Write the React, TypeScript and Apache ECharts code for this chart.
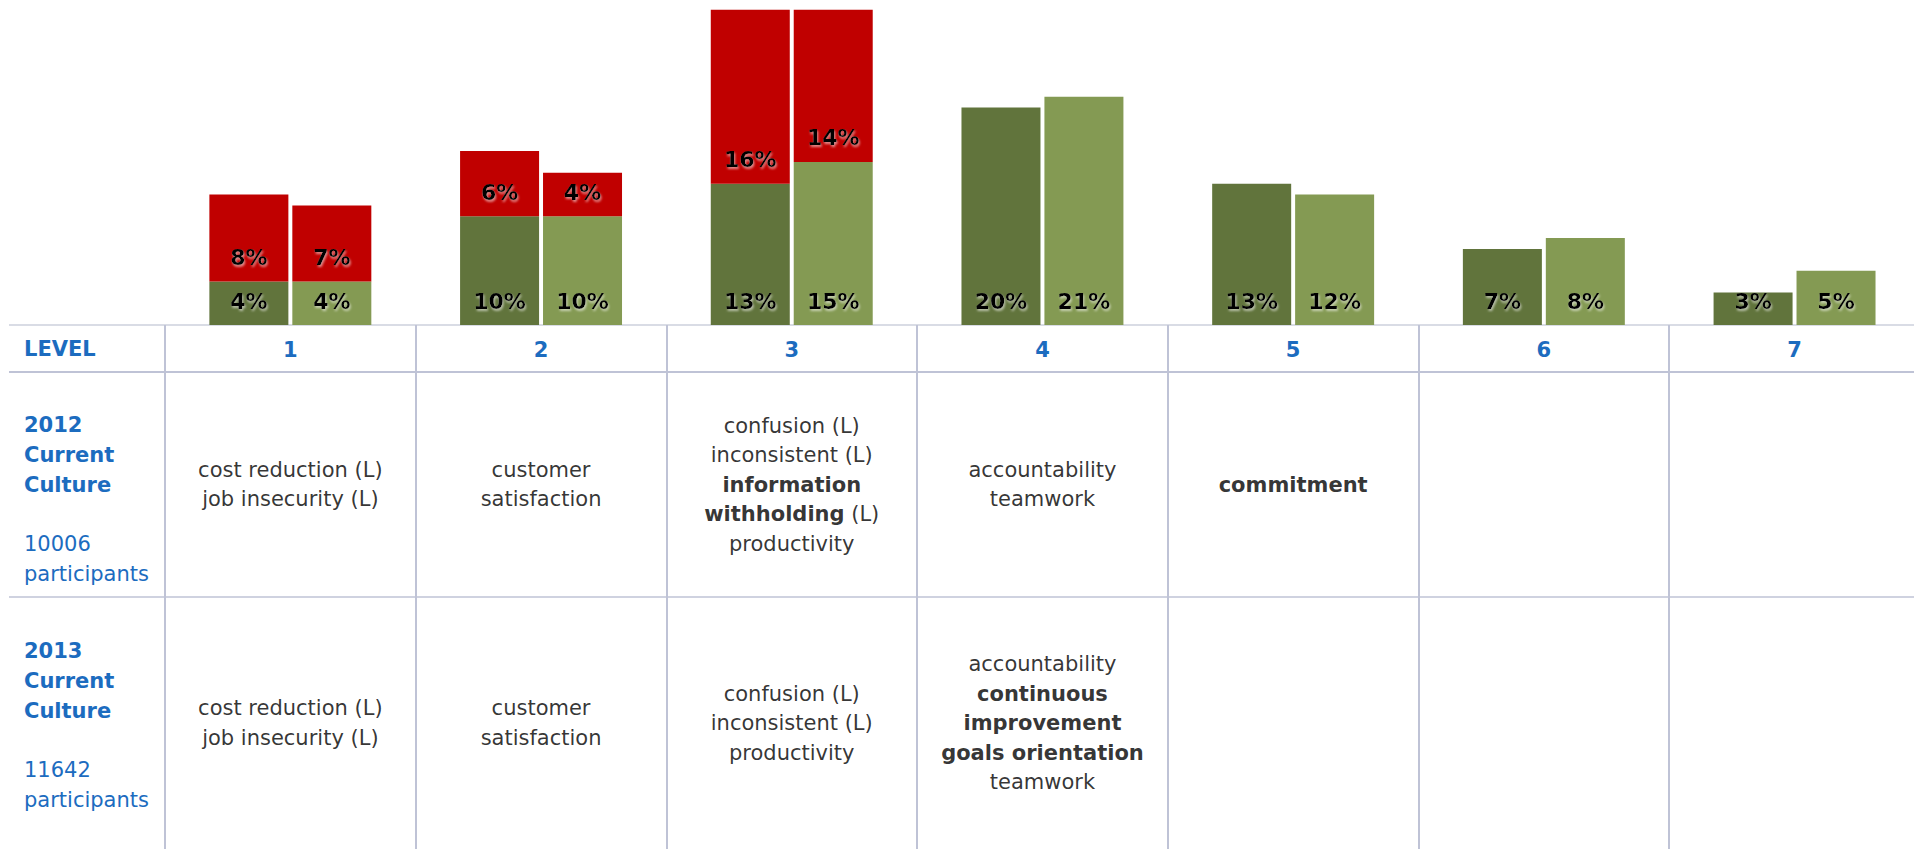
import React, { useEffect, useRef } from "react";
import * as echarts from "echarts";

// ---- data ----
const levels = ["1", "2", "3", "4", "5", "6", "7"];
const base2012 = [4, 10, 13, 20, 13, 7, 3];
const limiting2012 = [8, 6, 16, 0, 0, 0, 0];
const base2013 = [4, 10, 15, 21, 12, 8, 5];
const limiting2013 = [7, 4, 14, 0, 0, 0, 0];

const rowYears = ["2012", "2013"];
const rowParticipants = ["10006", "11642"];
const levelHeader = "LEVEL";

// cell texts ({b|..} = bold)
const values2012 = [
  ["cost reduction (L)", "job insecurity (L)"],
  ["customer", "satisfaction"],
  ["confusion (L)", "inconsistent (L)", "{b|information}", "{b|withholding} (L)", "productivity"],
  ["accountability", "teamwork"],
  ["{b|commitment}"],
  [],
  [],
];
const values2013 = [
  ["cost reduction (L)", "job insecurity (L)"],
  ["customer", "satisfaction"],
  ["confusion (L)", "inconsistent (L)", "productivity"],
  ["accountability", "{b|continuous}", "{b|improvement}", "{b|goals orientation}", "teamwork"],
  [],
  [],
  [],
];

// ---- layout / style ----
const W = 1914;
const H = 849;
const CHART_W = 1930;
const COL_LEFT = 165;
const COL_W = 250.7;
const BASE_Y = 325;
const LEVEL_ROW_BOTTOM = 372;
const ROW1_BOTTOM = 597;
const LINE_LEFT = 9;
const FONT = "'DejaVu Sans', Verdana, sans-serif";
const BLUE = "#1C6CBF";
const DARK_GREEN = "#61743C";
const LIGHT_GREEN = "#849A53";
const RED = "#C00000";
const GRID_LINE = "#BFC3D6";
const HEADER_LH = 29.8;

export default function App() {
  const ref = useRef<HTMLDivElement>(null);

  useEffect(() => {
    if (!ref.current) return;
    const chart = echarts.init(ref.current, undefined, { renderer: "svg" });

    const barLabel = {
      show: true,
      position: "insideBottom",
      distance: 13,
      color: "#000000",
      fontFamily: FONT,
      fontSize: 22,
      fontWeight: "bold",
      textShadowColor: "rgba(255,255,255,0.55)",
      textShadowBlur: 2,
      textShadowOffsetX: 1,
      textShadowOffsetY: 2,
      formatter: (p: any) => (p.value ? p.value + "%" : ""),
    };

    const barCommon = {
      type: "bar",
      xAxisIndex: 0,
      yAxisIndex: 0,
      barWidth: 79,
      barGap: "5%",
      label: barLabel,
    };

    const row1Center = (LEVEL_ROW_BOTTOM + ROW1_BOTTOM) / 2 - BASE_Y;
    const row2Center = (ROW1_BOTTOM + H) / 2 - BASE_Y;

    const cellData: any[] = [];
    [values2012, values2013].forEach((rows, r) => {
      rows.forEach((lines, i) => {
        if (!lines.length) return;
        cellData.push({
          value: [i, r === 0 ? row1Center : row2Center],
          label: { formatter: lines.join("\n") },
        });
      });
    });

    const headerBlock = (r: number) =>
      `{b|${rowYears[r]}}\n{b|Current}\n{b|Culture}\n{r| }\n{r|${rowParticipants[r]}}\n{r|participants}`;

    const headerRich = {
      b: { fontFamily: FONT, fontSize: 21, fontWeight: "bold", fill: BLUE, lineHeight: HEADER_LH },
      r: { fontFamily: FONT, fontSize: 21, fill: BLUE, lineHeight: HEADER_LH },
    };

    const hLine = (y: number, w: number, color: string) => ({
      type: "line",
      silent: true,
      shape: { x1: LINE_LEFT, y1: y, x2: CHART_W, y2: y },
      style: { stroke: color, lineWidth: w },
    });

    chart.setOption({
      animation: false,
      backgroundColor: "#ffffff",
      grid: [
        { left: COL_LEFT, top: 0, width: COL_W * levels.length, height: BASE_Y },
        { left: COL_LEFT, top: BASE_Y, width: COL_W * levels.length, height: H - BASE_Y },
      ],
      xAxis: [
        {
          type: "category",
          gridIndex: 0,
          data: levels,
          show: false,
        },
        {
          type: "category",
          gridIndex: 1,
          data: levels,
          position: "top",
          axisLine: { show: false },
          axisTick: { show: false },
          axisLabel: {
            show: true,
            inside: true,
            interval: 0,
            margin: 14,
            color: BLUE,
            fontFamily: FONT,
            fontSize: 21,
            fontWeight: "bold",
          },
          splitLine: { show: true, interval: 0, lineStyle: { color: GRID_LINE, width: 2 } },
        },
      ],
      yAxis: [
        { type: "value", gridIndex: 0, min: 0, max: 29.9, show: false },
        { type: "value", gridIndex: 1, min: 0, max: H - BASE_Y, inverse: true, show: false },
      ],
      series: [
        { ...barCommon, name: "2012", stack: "y2012", data: base2012, itemStyle: { color: DARK_GREEN } },
        { ...barCommon, name: "2012 limiting", stack: "y2012", data: limiting2012, itemStyle: { color: RED } },
        { ...barCommon, name: "2013", stack: "y2013", data: base2013, itemStyle: { color: LIGHT_GREEN } },
        { ...barCommon, name: "2013 limiting", stack: "y2013", data: limiting2013, itemStyle: { color: RED } },
        {
          type: "scatter",
          xAxisIndex: 1,
          yAxisIndex: 1,
          symbolSize: 1,
          itemStyle: { color: "rgba(0,0,0,0)" },
          silent: true,
          data: cellData,
          label: {
            show: true,
            position: "inside",
            align: "center",
            verticalAlign: "middle",
            color: "#000000",
            fontFamily: FONT,
            fontSize: 21,
            lineHeight: 29.5,
            rich: {
              b: { fontFamily: FONT, fontSize: 21, fontWeight: "bold", color: "#000000", lineHeight: 29.5 },
            },
          },
        },
      ],
      graphic: [
        hLine(BASE_Y, 1.5, "#CDD0DD"),
        hLine(LEVEL_ROW_BOTTOM, 2, GRID_LINE),
        hLine(ROW1_BOTTOM, 1.5, GRID_LINE),
        {
          type: "text",
          silent: true,
          x: 24,
          y: (BASE_Y + LEVEL_ROW_BOTTOM) / 2,
          style: {
            text: levelHeader,
            fill: BLUE,
            font: `bold 21px ${FONT}`,
            align: "left",
            verticalAlign: "middle",
          },
        },
        {
          type: "text",
          silent: true,
          x: 24,
          y: 499.5,
          style: {
            text: headerBlock(0),
            rich: headerRich,
            fill: BLUE,
            align: "left",
            verticalAlign: "middle",
          },
        },
        {
          type: "text",
          silent: true,
          x: 24,
          y: 725.5,
          style: {
            text: headerBlock(1),
            rich: headerRich,
            fill: BLUE,
            align: "left",
            verticalAlign: "middle",
          },
        },
      ],
    });

    return () => chart.dispose();
  }, []);

  return (
    <div
      style={{
        position: "absolute",
        left: 0,
        top: 0,
        width: W,
        height: H,
        overflow: "hidden",
        background: "#fff",
      }}
    >
      <div ref={ref} style={{ width: CHART_W, height: H }} />
    </div>
  );
}
